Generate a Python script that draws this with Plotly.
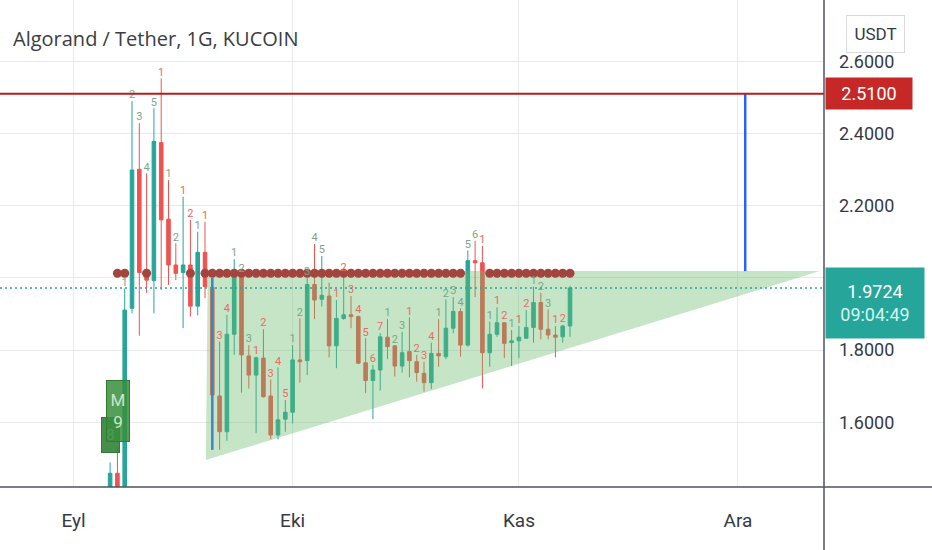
import plotly.graph_objects as go
import pandas as pd

# ---------------- data ----------------
dates = list(pd.date_range("2021-09-06", "2021-11-08", freq="D").strftime("%Y-%m-%d"))

opens = [1.400, 1.459, 1.410, 1.916, 2.301, 2.022, 1.993, 2.375, 2.163, 2.036,
         2.015, 2.036, 1.922, 2.071, 1.974, 1.673, 1.574, 1.844, 2.004, 1.784,
         1.731, 1.778, 1.673, 1.565, 1.609,
         1.628, 1.773, 1.771, 1.982, 1.941, 1.950, 1.812, 1.888, 1.898, 1.893,
         1.765, 1.716, 1.745, 1.836, 1.812, 1.756, 1.796, 1.768, 1.736, 1.710,
         1.791, 1.782, 1.861, 1.907, 1.814, 2.048, 2.042, 1.793, 1.844, 1.876,
         1.821,
         1.826, 1.833, 1.863, 1.932, 1.858, 1.842, 1.837, 1.867]
highs = [1.489, 1.530, 1.971, 2.490, 2.429, 2.290, 2.470, 2.553, 2.271, 2.096,
         2.225, 2.161, 2.128, 2.156, 1.999, 1.824, 1.898, 2.052, 2.008, 1.814,
         1.782, 1.858, 1.719, 1.752, 1.662,
         1.814, 1.888, 2.000, 2.094, 2.061, 1.987, 1.939, 2.013, 1.950, 1.896,
         1.833, 1.759, 1.847, 1.886, 1.813, 1.851, 1.891, 1.787, 1.768, 1.821,
         1.886, 1.941, 1.947, 1.916, 2.076, 2.103, 2.089, 1.879, 1.919, 1.878,
         1.856,
         1.867, 1.911, 1.976, 1.959, 1.913, 1.867, 1.870, 1.978]
lows = [1.380, 1.380, 1.390, 1.902, 1.840, 1.959, 1.902, 1.967, 1.981, 1.994,
        1.861, 1.893, 1.896, 1.944, 1.524, 1.524, 1.549, 1.787, 1.682, 1.694,
        1.570, 1.669, 1.553, 1.553, 1.574,
        1.597, 1.710, 1.731, 1.886, 1.921, 1.780, 1.750, 1.884, 1.861, 1.762,
        1.681, 1.609, 1.688, 1.775, 1.727, 1.738, 1.725, 1.713, 1.685, 1.692,
        1.754, 1.775, 1.847, 1.782, 1.810, 1.947, 1.694, 1.754, 1.837, 1.778,
        1.756,
        1.778, 1.833, 1.821, 1.830, 1.830, 1.780, 1.821, 1.837]
closes = [1.459, 1.410, 1.911, 2.299, 2.015, 1.994, 2.378, 2.161, 2.036, 2.013,
          2.036, 1.922, 2.071, 1.976, 1.676, 1.574, 1.844, 2.004, 1.787, 1.731,
          1.779, 1.671, 1.565, 1.607, 1.628,
          1.773, 1.768, 1.982, 1.939, 1.952, 1.812, 1.888, 1.898, 1.893, 1.764,
          1.716, 1.745, 1.837, 1.810, 1.756, 1.793, 1.771, 1.738, 1.710, 1.791,
          1.784, 1.861, 1.907, 1.814, 2.048, 2.042, 1.793, 1.844, 1.876, 1.819,
          1.826,
          1.836, 1.863, 1.932, 1.858, 1.842, 1.836, 1.867, 1.9724]

# TD-sequential style counts above candles ('g' = green/grey count, 'r' = red count)
td_text = ["", "", "1", "2", "3", "4", "5", "1", "1", "2",
           "1", "2", "1", "1", "", "3", "4", "1", "2", "3",
           "1", "2", "3", "4", "5",
           "1", "2", "3", "4", "5", "", "1", "2", "3", "4",
           "5", "6", "7", "1", "2", "3", "1", "2", "3", "4",
           "1", "2", "3", "4", "5", "6", "1", "1", "1", "2",
           "1",
           "1", "2", "1", "2", "3", "1", "2", ""]
td_kind = ["", "", "g", "g", "g", "g", "g", "r", "g", "g",
           "r", "r", "g", "r", "", "r", "r", "g", "g", "g",
           "r", "r", "r", "r", "r",
           "g", "g", "g", "g", "g", "", "r", "r", "r", "r",
           "r", "r", "r", "g", "g", "g", "r", "r", "r", "r",
           "g", "g", "g", "g", "g", "g", "r", "g", "r", "r",
           "g",
           "r", "r", "g", "g", "g", "r", "r", ""]

# dotted resistance level (markers)
dot_level = 2.013
dot_dates = ["2021-09-07", "2021-09-08", "2021-09-11", "2021-09-17", "2021-09-19"] + \
    [d for d in pd.date_range("2021-09-20", "2021-11-08", freq="D").strftime("%Y-%m-%d")
     if d not in ("2021-10-25", "2021-10-26", "2021-10-27")]

# drawings
resistance_price = 2.51
last_price = 1.9724
countdown = "09:04:49"
tri_x = ["2021-09-19 09:00", "2021-12-12 05:00", "2021-09-19 03:00"]
tri_y = [2.019, 2.019, 1.496]
pole1_x = ["2021-09-20", "2021-09-20"]
pole1_y = [2.000, 1.524]
pole2_x = ["2021-12-02", "2021-12-02"]
pole2_y = [2.019, 2.510]

month_vals = ["2021-09-01", "2021-10-01", "2021-11-01", "2021-12-01"]
month_text = ["Eyl", "Eki", "Kas", "Ara"]
price_ticks = [1.6, 1.8, 2.0, 2.2, 2.4, 2.6]

x_range = ["2021-08-21 22:00", "2021-12-12 19:00"]
y_range = [1.421, 2.770]

UP = "#26a69a"
DOWN = "#ef5350"

# ---------------- figure ----------------
fig = go.Figure()

fig.add_trace(go.Candlestick(
    x=dates, open=opens, high=highs, low=lows, close=closes,
    increasing=dict(line=dict(color=UP, width=1), fillcolor=UP),
    decreasing=dict(line=dict(color=DOWN, width=1), fillcolor=DOWN),
    whiskerwidth=0, hoverinfo="skip", showlegend=False,
))

fig.add_trace(go.Scatter(
    x=pole1_x + [None] + pole2_x, y=pole1_y + [None] + pole2_y,
    mode="lines", line=dict(color="#2962ff", width=2.5),
    hoverinfo="skip", showlegend=False,
))

fig.add_trace(go.Scatter(
    x=tri_x + [tri_x[0]], y=tri_y + [tri_y[0]],
    mode="lines", fill="toself", fillcolor="rgba(102,187,106,0.38)",
    line=dict(width=0), hoverinfo="skip", showlegend=False,
))

fig.add_trace(go.Scatter(
    x=dot_dates, y=[dot_level] * len(dot_dates), mode="markers",
    marker=dict(size=9, color="#a3453f", line=dict(width=0)),
    hoverinfo="skip", showlegend=False,
))

col_map = {"g": "#7aa68b", "r": "#ea6a62"}
lx = [d for d, t in zip(dates, td_text) if t]
ly = [h for h, t in zip(highs, td_text) if t]
lt = [t for t in td_text if t]
lc = [col_map[k] for k, t in zip(td_kind, td_text) if t]
fig.add_trace(go.Scatter(
    x=lx, y=ly, text=lt, mode="text", textposition="top center",
    textfont=dict(size=11, color=lc, family="Roboto"),
    hoverinfo="skip", showlegend=False,
))

shapes = [
    dict(type="line", xref="paper", yref="y", x0=0, x1=1,
         y0=resistance_price, y1=resistance_price,
         line=dict(color="#b71c1c", width=2)),
    dict(type="line", xref="paper", yref="y", x0=0, x1=1,
         y0=last_price, y1=last_price,
         line=dict(color=UP, width=1.5, dash="2px,3px")),
    # axis borders
    dict(type="line", xref="paper", yref="paper", x0=0, x1=1.2, y0=0, y1=0,
         line=dict(color="#50535e", width=1.5)),
    dict(type="line", xref="paper", yref="paper", x0=1, x1=1, y0=-0.2, y1=1,
         line=dict(color="#50535e", width=1.5)),
]

annotations = [
    dict(text="Algorand / Tether, 1G, KUCOIN", xref="paper", yref="paper",
         x=0, y=1, xanchor="left", yanchor="top", xshift=11, yshift=-23,
         showarrow=False, font=dict(family="Open Sans", size=20, color="#3b3d45")),
    dict(text="USDT", xref="paper", yref="paper", x=1.0631, y=0.930,
         xanchor="center", yanchor="middle", showarrow=False,
         width=45, height=24,
         font=dict(family="Roboto", size=17, color="#363a45"),
         bgcolor="white", bordercolor="#d6d9e0", borderwidth=1, borderpad=6),
    dict(text=f"{resistance_price:.4f}", xref="paper", yref="y", x=1, y=resistance_price,
         xanchor="left", yanchor="middle", xshift=1, showarrow=False,
         width=86, height=31, borderpad=0, bgcolor="#c62828",
         font=dict(family="Roboto", size=18, color="white")),
    dict(text=f"{last_price:.4f}<br><span style='color:#d6f5f0'>{countdown}</span>",
         xref="paper", yref="y", x=1, y=last_price,
         xanchor="left", yanchor="middle", xshift=1, yshift=-15, showarrow=False,
         width=98, height=70, borderpad=0, bgcolor=UP,
         font=dict(family="Roboto", size=18, color="white")),
    dict(text="8", x="2021-09-06", y=1.565, xref="x", yref="y", showarrow=False,
         width=17, height=34, bgcolor="rgba(46,125,50,0.88)", bordercolor="#2e7d32",
         borderwidth=1, borderpad=0, font=dict(family="Roboto", size=15, color="#c8e6c9")),
    dict(text="M<br>9", x="2021-09-07 02:00", y=1.632, xref="x", yref="y", showarrow=False,
         width=22, height=60, bgcolor="rgba(56,142,60,0.85)", bordercolor="#2e7d32",
         borderwidth=1, borderpad=0, font=dict(family="Roboto", size=17, color="#c8e6c9")),
]

fig.update_layout(
    width=932, height=550,
    margin=dict(l=0, r=108, t=0, b=63),
    paper_bgcolor="white", plot_bgcolor="white",
    showlegend=False,
    shapes=shapes, annotations=annotations,
    xaxis=dict(
        type="date", range=x_range, rangeslider=dict(visible=False),
        tickvals=month_vals, ticktext=month_text, ticks="",
        showgrid=True, gridcolor="#e8eaee", gridwidth=1,
        zeroline=False, showline=False, ticklabelstandoff=20,
        tickfont=dict(family="Roboto", size=19, color="#363a45"),
        fixedrange=True,
    ),
    yaxis=dict(
        side="right", range=y_range, tickvals=price_ticks, tickformat=".4f",
        ticks="", showgrid=True, gridcolor="#e8eaee", gridwidth=1,
        zeroline=False, showline=False, ticklabelstandoff=14,
        tickfont=dict(family="Roboto", size=18, color="#363a45"),
        fixedrange=True,
    ),
)

fig.write_html("out.html", config={"displayModeBar": False},
               post_script="document.body.style.margin='0';")
